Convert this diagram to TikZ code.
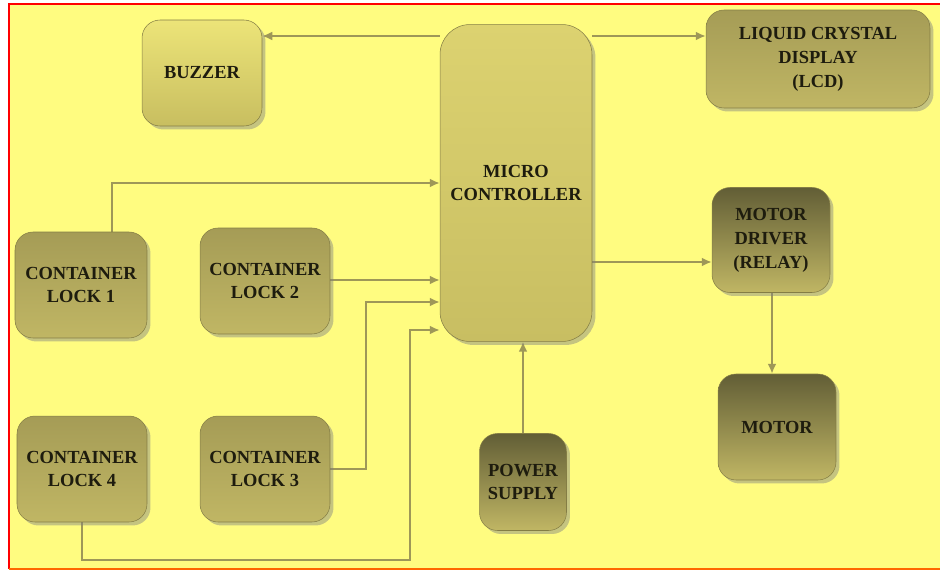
\documentclass[tikz,border=0pt]{standalone}
\usepackage{fontspec}
\setmainfont{Liberation Serif}
\usetikzlibrary{shadows,backgrounds,arrows.meta}

\definecolor{bgyellow}{RGB}{255,252,128}
\definecolor{wire}{RGB}{158,151,88}
\definecolor{ink}{RGB}{30,28,14}
\definecolor{olivelt}{RGB}{192,182,100}
\definecolor{olivemd}{RGB}{165,156,86}
\definecolor{olivedk}{RGB}{98,94,54}

\begin{document}
\begin{tikzpicture}[
  x=0.02cm, y=-0.02cm,
  every node/.style={align=center, text=ink, font=\fontsize{10.5}{13.6}\selectfont\bfseries},
  blockbox/.style={rounded corners=0.36cm, draw=olivemd!80!black, line width=0.3pt,
    drop shadow={opacity=0.45, shadow xshift=0.07cm, shadow yshift=-0.07cm}},
  lockbox/.style={blockbox, top color=olivemd, bottom color=olivelt, minimum width=2.6cm, minimum height=2.12cm},
  lightbox/.style={blockbox, top color={rgb,255:red,236;green,228;blue,120}, bottom color={rgb,255:red,200;green,190;blue,96}},
  darkbox/.style={blockbox, top color=olivedk, bottom color=olivelt},
  link/.style={draw=wire, line width=1.1pt, -{Latex[length=2mm,width=1.8mm]}},
]
  \useasboundingbox (0,0) rectangle (940,571);

  % Top row
  \node[lightbox, minimum width=2.4cm, minimum height=2.12cm] (buzzer) at (202,73) {BUZZER};
  \node[blockbox, rounded corners=0.6cm, top color={rgb,255:red,220;green,210;blue,112},
    bottom color={rgb,255:red,200;green,190;blue,98}, minimum width=3.04cm, minimum height=6.34cm]
    (mc) at (516,183) {MICRO\\CONTROLLER};
  \node[blockbox, top color=olivemd, bottom color=olivelt, minimum width=4.48cm, minimum height=1.96cm]
    (lcd) at (818,59) {LIQUID CRYSTAL\\DISPLAY\\(LCD)};

  % Right column
  \node[darkbox, minimum width=2.36cm, minimum height=2.1cm] (drv) at (771,240) {MOTOR\\DRIVER\\(RELAY)};
  \node[darkbox, minimum width=2.36cm, minimum height=2.12cm] (motor) at (777,427) {MOTOR};
  \node[darkbox, minimum width=1.74cm, minimum height=1.94cm] (psu) at (523,482) {POWER\\SUPPLY};

  % Container locks
  \node[lockbox, minimum width=2.64cm] (lock1) at (81,285) {CONTAINER\\LOCK 1};
  \node[lockbox] (lock2) at (265,281) {CONTAINER\\LOCK 2};
  \node[lockbox] (lock4) at (82,469) {CONTAINER\\LOCK 4};
  \node[lockbox] (lock3) at (265,469) {CONTAINER\\LOCK 3};

  \begin{scope}[on background layer]
    \fill[bgyellow] (9,4) rectangle (945,569);
    \draw[red, line width=1.6pt] (945,4) -- (9,4) -- (9,569);
    \draw[orange!80!red, line width=1.2pt] (9,569) -- (945,569);

    % Connections
    \draw[link] (mc.west |- 0,36) -- (buzzer.east |- 0,36);
    \draw[link] (mc.east |- 0,36) -- (lcd.west |- 0,36);
    \draw[link] (lock1.north -| 112,0) |- (mc.west |- 0,183);
    \draw[link] (lock2.east |- 0,280) -- (mc.west |- 0,280);
    \draw[link] (lock3.east) -| (366,302) -- (mc.west |- 0,302);
    \draw[link] (lock4.south) |- (410,560) |- (mc.west |- 0,330);
    \draw[link] (mc.east |- 0,262) -- (drv.west |- 0,262);
    \draw[link] (drv.south -| 772,0) -- (motor.north -| 772,0);
    \draw[link] (psu.north) -- (mc.south -| psu.north);
  \end{scope}
\end{tikzpicture}
\end{document}
